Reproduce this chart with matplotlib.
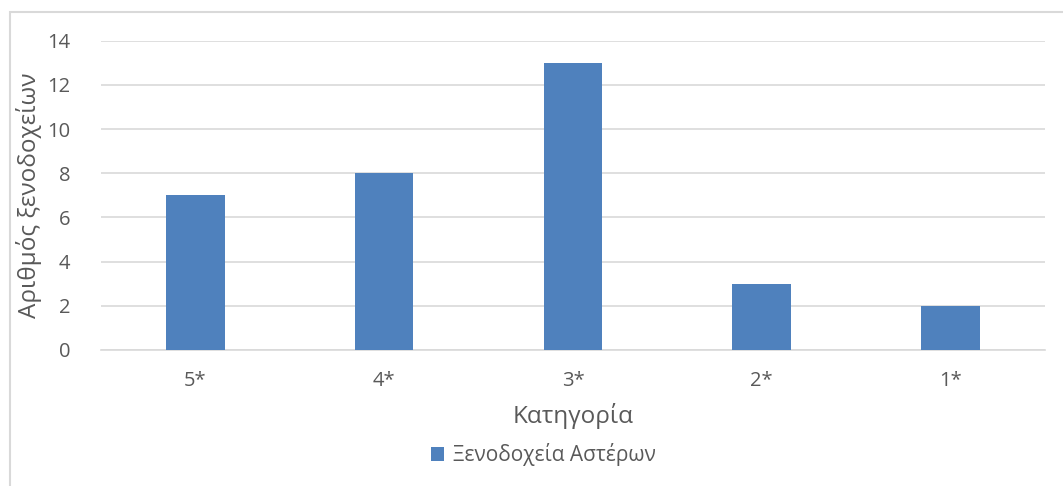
import matplotlib.pyplot as plt
from matplotlib.patches import Rectangle

# Data
categories = ["5*", "4*", "3*", "2*", "1*"]
hotel_counts = [7, 8, 13, 3, 2]
series_name = "Ξενοδοχεία Αστέρων"

plt.rcParams["font.family"] = ["Open Sans", "DejaVu Sans"]
text_color = "#595959"
bar_color = "#4F81BD"
grid_color = "#D9D9D9"

fig = plt.figure(figsize=(10.63, 4.86), dpi=100)
ax = fig.add_axes([0.095, 0.280, 0.888, 0.636])

x = range(len(categories))
ax.bar(x, hotel_counts, width=0.31, color=bar_color, label=series_name, zorder=3)

ax.set_xlim(-0.5, len(categories) - 0.5)
ax.set_ylim(0, 14)
ax.set_yticks(range(0, 15, 2))
ax.set_xticks(list(x))
ax.set_xticklabels(categories)

ax.grid(axis="y", color=grid_color, linewidth=1.2, zorder=0)
for side in ["top", "right", "left"]:
    ax.spines[side].set_visible(False)
ax.spines["bottom"].set_color(grid_color)
ax.spines["bottom"].set_linewidth(1.2)
ax.tick_params(axis="both", length=0, labelsize=14.5, colors=text_color)
ax.tick_params(axis="x", pad=15)
ax.tick_params(axis="y", pad=22)

ax.set_xlabel("Κατηγορία", fontsize=17.5, color=text_color, labelpad=9)
ax.set_ylabel("Αριθμός ξενοδοχείων", fontsize=17.5, color=text_color, labelpad=4)

fig.legend(loc="center", bbox_to_anchor=(0.511, 0.064), frameon=False,
           fontsize=15, labelcolor=text_color, handlelength=0.65, handleheight=0.65,
           handletextpad=0.4)

# light chart-area border (Excel style)
fig.add_artist(Rectangle((9.5 / 1063, -0.1), 1.2, (486 - 12) / 486 + 0.1,
                         transform=fig.transFigure, fill=False,
                         edgecolor=grid_color, linewidth=1.5))

fig.savefig("out.png", dpi=100)
